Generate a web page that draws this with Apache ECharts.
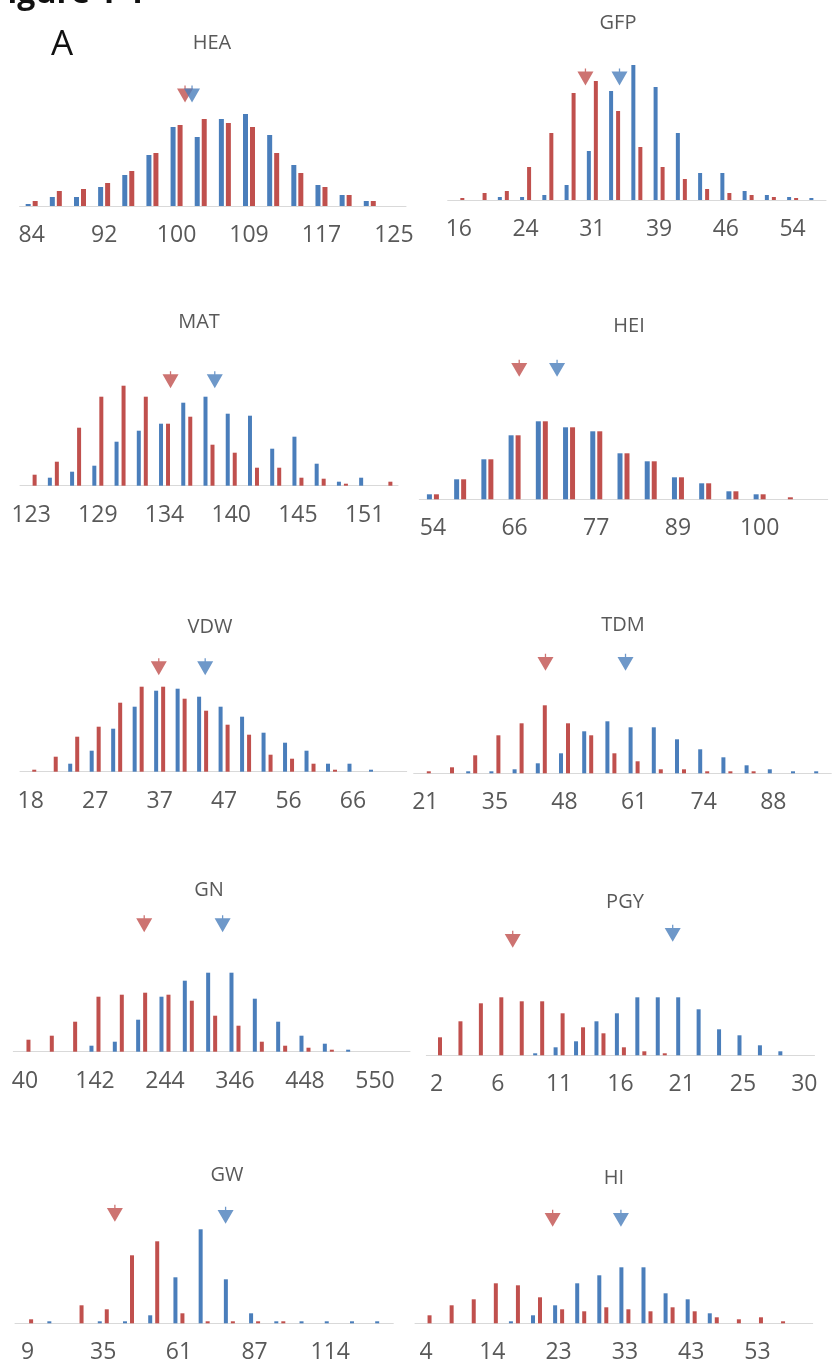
<!DOCTYPE html>
<html>
<head>
<meta charset="utf-8">
<script src="https://cdn.jsdelivr.net/npm/echarts@6/dist/echarts.min.js"></script>
<style>
  html, body { margin: 0; padding: 0; background: #ffffff; }
  #chart { width: 832px; height: 1366px; }
</style>
</head>
<body>
<div id="chart"></div>
<script>
// ---------- DATA (bar heights, relative frequency units) ----------
const heaBlue = [2, 9, 9, 19, 31, 51, 79, 69, 87, 92, 71, 41, 21, 11, 5, 0];
const heaRed  = [5, 15, 17, 23, 35, 53, 81, 87, 83, 79, 53, 33, 19, 11, 5, 0];
const heaTicks = ['84', '92', '100', '109', '117', '125'];
const heaMeans = [[6.35, 112], [6.64, 112]]; // [red], [blue]: position in bins, height

const gfpBlue = [0, 0, 3, 3, 5, 15, 49, 109, 135, 113, 67, 27, 27, 9, 5, 3, 2];
const gfpRed  = [2, 7, 9, 33, 67, 107, 119, 89, 53, 33, 21, 11, 7, 5, 3, 2, 0];
const gfpTicks = ['16', '24', '31', '39', '46', '54'];
const gfpMeans = [[5.69, 123], [7.22, 123]];

const matBlue = [0, 8, 14, 20, 44, 55, 62, 83, 89, 72, 70, 37, 49, 22, 4, 8, 0];
const matRed  = [11, 24, 58, 89, 100, 89, 62, 69, 41, 33, 18, 18, 8, 7, 2, 0, 4];
const matTicks = ['123', '129', '134', '140', '145', '151'];
const matMeans = [[6.27, 106], [8.26, 106]];

const heiBlue = [5, 20, 40, 64, 78, 72, 68, 46, 38, 22, 16, 8, 5, 0, 0];
const heiRed  = [5, 20, 40, 64, 78, 72, 68, 46, 38, 22, 16, 8, 5, 2, 0];
const heiTicks = ['54', '66', '77', '89', '100'];
const heiMeans = [[3.17, 131], [4.56, 131]];

const vdwBlue = [0, 0, 8, 21, 43, 65, 81, 83, 75, 65, 55, 39, 29, 21, 8, 8, 2, 0];
const vdwRed  = [2, 15, 35, 45, 69, 85, 85, 73, 61, 47, 37, 17, 13, 8, 2, 0, 0, 0];
const vdwTicks = ['18', '27', '37', '47', '56', '66'];
const vdwMeans = [[5.96, 105], [8.12, 105]];

const tdmBlue = [0, 0, 2, 2, 4, 10, 20, 42, 52, 46, 46, 34, 24, 16, 8, 4, 2, 2];
const tdmRed  = [2, 6, 18, 38, 50, 68, 50, 38, 20, 12, 4, 4, 2, 2, 2, 0, 0, 0];
const tdmTicks = ['21', '35', '48', '61', '74', '88'];
const tdmMeans = [[5.18, 111], [8.63, 111]];

const gnBlue = [0, 0, 0, 6, 10, 32, 55, 71, 79, 79, 53, 30, 16, 8, 2, 0, 0];
const gnRed  = [12, 16, 30, 55, 57, 59, 57, 51, 36, 26, 10, 6, 4, 2, 0, 0, 0];
const gnTicks = ['40', '142', '244', '346', '448', '550'];
const gnMeans = [[5.11, 128], [8.47, 128]];

const pgyBlue = [0, 0, 0, 0, 0, 2, 8, 14, 34, 42, 58, 58, 58, 46, 26, 20, 10, 4, 0];
const pgyRed  = [18, 34, 52, 58, 54, 54, 42, 28, 22, 8, 4, 2, 0, 0, 0, 0, 0, 0, 0];
const pgyTicks = ['2', '6', '11', '16', '21', '25', '30'];
const pgyMeans = [[3.73, 116], [11.56, 122]];

const gwBlue = [0, 2, 0, 2, 2, 8, 46, 94, 44, 10, 2, 2, 2, 2, 2];
const gwRed  = [4, 0, 18, 14, 68, 82, 10, 2, 2, 2, 2, 0, 0, 0, 0];
const gwTicks = ['9', '35', '61', '87', '114'];
const gwMeans = [[3.46, 110], [7.85, 108]];

const hiBlue = [0, 0, 0, 0, 2, 8, 18, 40, 48, 56, 56, 30, 24, 10, 0, 0, 0, 0];
const hiRed  = [8, 18, 24, 40, 38, 26, 14, 12, 16, 14, 12, 16, 12, 6, 4, 6, 2, 0];
const hiTicks = ['4', '14', '23', '33', '43', '53'];
const hiMeans = [[5.73, 105], [8.82, 105]];

const traitNames = ['HEA', 'GFP', 'MAT', 'HEI', 'VDW', 'TDM', 'GN', 'PGY', 'GW', 'HI'];

// ---------- LAYOUT ----------
const BLUE = '#4A7EBB';
const RED = '#C0504D';
const FONT = 'Open Sans';
const H = 150; // grid height (value-axis max)

const panels = [
  { name: traitNames[0], blue: heaBlue, red: heaRed, ticks: heaTicks, means: heaMeans, x0: 19.6, x1: 406, base: 206, tx: 212, ty: 43, bw: 5 },
  { name: traitNames[1], blue: gfpBlue, red: gfpRed, ticks: gfpTicks, means: gfpMeans, x0: 447.7, x1: 826, base: 200, tx: 618, ty: 23, bw: 4 },
  { name: traitNames[2], blue: matBlue, red: matRed, ticks: matTicks, means: matMeans, x0: 20, x1: 398, base: 485.7, tx: 199, ty: 322, bw: 4 },
  { name: traitNames[3], blue: heiBlue, red: heiRed, ticks: heiTicks, means: heiMeans, x0: 419.3, x1: 827.7, base: 499.3, tx: 629, ty: 326, bw: 5 },
  { name: traitNames[4], blue: vdwBlue, red: vdwRed, ticks: vdwTicks, means: vdwMeans, x0: 20, x1: 406.7, base: 771.7, tx: 210, ty: 627, bw: 4 },
  { name: traitNames[5], blue: tdmBlue, red: tdmRed, ticks: tdmTicks, means: tdmMeans, x0: 413.7, x1: 831.3, base: 773.3, tx: 623, ty: 625, bw: 4 },
  { name: traitNames[6], blue: gnBlue, red: gnRed, ticks: gnTicks, means: gnMeans, x0: 13.3, x1: 410, base: 1051.7, tx: 209, ty: 890, bw: 4 },
  { name: traitNames[7], blue: pgyBlue, red: pgyRed, ticks: pgyTicks, means: pgyMeans, x0: 426.3, x1: 814.5, base: 1055.3, tx: 625, ty: 902, bw: 4 },
  { name: traitNames[8], blue: gwBlue, red: gwRed, ticks: gwTicks, means: gwMeans, x0: 15, x1: 393.3, base: 1323.3, tx: 227, ty: 1175, bw: 4 },
  { name: traitNames[9], blue: hiBlue, red: hiRed, ticks: hiTicks, means: hiMeans, x0: 415, x1: 812.7, base: 1323.3, tx: 614, ty: 1178, bw: 4 }
];

const ARROW = 'path://M4.6,0L5.4,0L5.4,2L10,2L5,11L0,2L4.6,2Z';

const grid = [], xAxis = [], yAxis = [], series = [], graphic = [];

panels.forEach((p, i) => {
  const n = p.blue.length;
  grid.push({ left: p.x0, width: p.x1 - p.x0, top: p.base - H, height: H });
  xAxis.push({
    type: 'category', gridIndex: i,
    data: p.blue.map((_, k) => String(k)),
    axisLine: { lineStyle: { color: '#d9d9d9', width: 1 } },
    axisTick: { show: false },
    splitLine: { show: false },
    axisLabel: {
      interval: 0, margin: 18, fontSize: 23, color: '#595959', fontFamily: FONT,
      formatter: (v, k) => (k % 3 === 0 && p.ticks[k / 3] !== undefined) ? p.ticks[k / 3] : ''
    }
  });
  xAxis.push({ type: 'value', gridIndex: i, min: -0.5, max: n - 0.5, show: false });
  yAxis.push({ type: 'value', gridIndex: i, min: 0, max: H, show: false, splitLine: { show: false } });

  const gap = Math.round((7 - p.bw) / p.bw * 100) + '%';
  series.push({
    type: 'bar', xAxisIndex: 2 * i, yAxisIndex: i, data: p.blue,
    barWidth: p.bw, barGap: gap, itemStyle: { color: BLUE }, silent: true
  });
  series.push({
    type: 'bar', xAxisIndex: 2 * i, yAxisIndex: i, data: p.red,
    barWidth: p.bw, barGap: gap, itemStyle: { color: RED }, silent: true
  });
  series.push({
    type: 'scatter', xAxisIndex: 2 * i + 1, yAxisIndex: i, data: [p.means[0]],
    symbol: ARROW, symbolSize: [16, 17], itemStyle: { color: RED }, z: 5, silent: true
  });
  series.push({
    type: 'scatter', xAxisIndex: 2 * i + 1, yAxisIndex: i, data: [p.means[1]],
    symbol: ARROW, symbolSize: [16, 17], itemStyle: { color: BLUE }, z: 6, silent: true
  });

  graphic.push({
    type: 'text', x: p.tx, y: p.ty,
    style: { text: p.name, fontSize: 20, fontFamily: FONT, fill: '#595959', align: 'center', verticalAlign: 'middle' }
  });
});

graphic.push({
  type: 'text', x: 62, y: 45,
  style: { text: 'A', fontSize: 35, fontFamily: FONT, fill: '#111111', align: 'center', verticalAlign: 'middle' }
});
graphic.push({
  type: 'text', x: -10, y: -6,
  style: { text: 'Figure 1-1', fontSize: 32, fontWeight: 'bold', fontFamily: FONT, fill: '#111111', align: 'left', verticalAlign: 'middle' }
});

const chart = echarts.init(document.getElementById('chart'), null, { renderer: 'canvas' });
chart.setOption({
  animation: false,
  backgroundColor: '#ffffff',
  grid, xAxis, yAxis, series, graphic
});
</script>
</body>
</html>
